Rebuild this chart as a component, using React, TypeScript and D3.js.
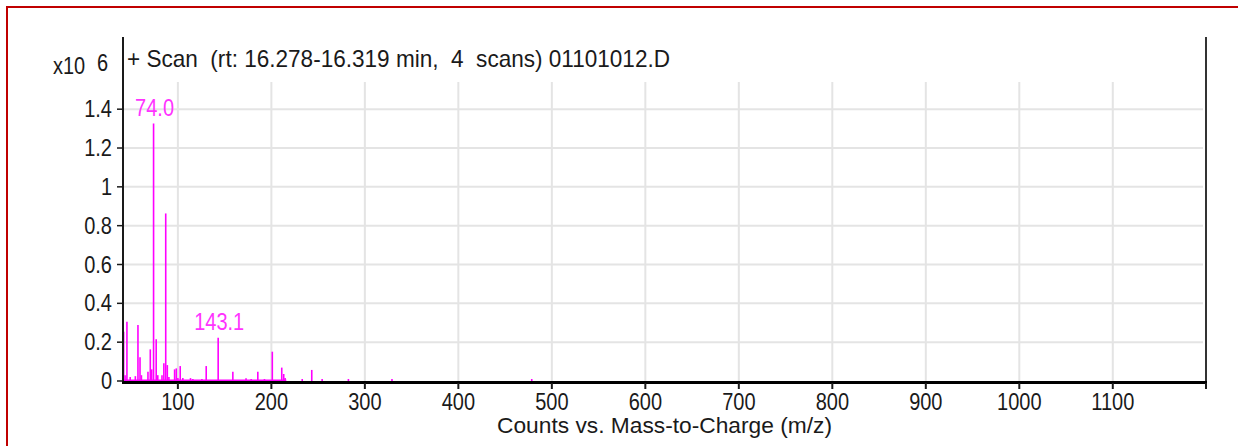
import React, { useRef, useEffect } from "react";
import * as d3 from "d3";

// peaks: m/z and counts (x10^6)
const peakMz = [
  42.0, 43.5, 45.5, 49, 54.5, 57.3, 59.5, 61, 68, 70.5, 72, 74.0, 76.8, 78.5, 83, 85, 87, 88.7,
  90.4, 96.5, 98.3, 100, 102.5, 105.3, 113.5, 116, 125.7, 130.3, 143.1, 158.8, 172.9, 178.4,
  185.5, 192.6, 201, 211.1, 213.2, 214.7, 233, 243.2, 254.3, 282.4, 329, 478.5,
];
const peakCounts = [
  0.254, 0.03, 0.305, 0.02, 0.025, 0.288, 0.122, 0.03, 0.048, 0.163, 0.06, 1.326, 0.215, 0.03,
  0.03, 0.091, 0.863, 0.082, 0.02, 0.06, 0.065, 0.015, 0.077, 0.015, 0.015, 0.01, 0.01, 0.077,
  0.223, 0.048, 0.014, 0.005, 0.048, 0.005, 0.151, 0.069, 0.036, 0.015, 0.01, 0.057, 0.01,
  0.008, 0.005, 0.005,
];
const labelledPeaks = ["74.0", "143.1"];

const yTicks = [0, 0.2, 0.4, 0.6, 0.8, 1, 1.2, 1.4];
const xTicks = [100, 200, 300, 400, 500, 600, 700, 800, 900, 1000, 1100];

const title = "+ Scan  (rt: 16.278-16.319 min,  4  scans) 01101012.D";
const xTitle = "Counts vs. Mass-to-Charge (m/z)";

const App = () => {
  const svgRef = useRef(null);

  var width = 1238;
  var height = 446;
  var left = 123, right = 1206, bottom = 381, top = 82;

  useEffect(() => {
    var svg = d3.select(svgRef.current);
    svg.selectAll("*").remove();

    var x = d3.scaleLinear().domain([41.3, 1199.7]).range([left, right]);
    var y = d3.scaleLinear().domain([0, 1.54]).range([bottom, top]);

    var font = "'Liberation Sans', Arial, sans-serif";

    // helper for the tall narrow text of the original
    function label(tx, ty, str, anchor, color, len?, sy = 1.2) {
      var t = svg
        .append("text")
        .attr("transform", "translate(" + tx + "," + ty + ") scale(1," + sy + ")")
        .attr("text-anchor", anchor)
        .attr("font-family", font)
        .attr("font-size", 20)
        .style("white-space", "pre")
        .attr("fill", color)
        .text(str);
      if (len) t.attr("textLength", len).attr("lengthAdjust", "spacingAndGlyphs");
      return t;
    }

    svg.append("rect").attr("width", width).attr("height", height).attr("fill", "#fff");

    // red frame (right and bottom sides are out of the picture)
    svg
      .append("rect")
      .attr("x", 7)
      .attr("y", 7)
      .attr("width", 1300)
      .attr("height", 500)
      .attr("fill", "none")
      .attr("stroke", "#c00000")
      .attr("stroke-width", 2);

    // grid
    svg
      .selectAll(".gx")
      .data(xTicks)
      .enter()
      .append("line")
      .attr("x1", (d) => x(d))
      .attr("x2", (d) => x(d))
      .attr("y1", top)
      .attr("y2", bottom)
      .attr("stroke", "#e4e4e4")
      .attr("stroke-width", 2);
    svg
      .selectAll(".gy")
      .data(yTicks.filter((d) => d > 0))
      .enter()
      .append("line")
      .attr("x1", left)
      .attr("x2", right - 3)
      .attr("y1", (d) => y(d))
      .attr("y2", (d) => y(d))
      .attr("stroke", "#e4e4e4")
      .attr("stroke-width", 2);

    // spectrum: baseline + sticks
    svg
      .append("line")
      .attr("x1", x(41.3))
      .attr("x2", x(216))
      .attr("y1", y(0) - 0.5)
      .attr("y2", y(0) - 0.5)
      .attr("stroke", "#ff00ff")
      .attr("stroke-width", 2);
    svg
      .selectAll(".peak")
      .data(peakMz)
      .enter()
      .append("line")
      .attr("x1", (d) => x(d))
      .attr("x2", (d) => x(d))
      .attr("y1", y(0))
      .attr("y2", (d, i) => Math.min(y(peakCounts[i]), y(0) - 2))
      .attr("stroke", "#ff00ff")
      .attr("stroke-width", 1.6);

    // peak labels
    labelledPeaks.forEach((s) => {
      var i = peakMz.indexOf(+s);
      label(x(peakMz[i]) + 1, y(peakCounts[i]) - 8, s, "middle", "#ff33ff");
    });

    // axes
    svg.append("line").attr("x1", left).attr("x2", left).attr("y1", 37).attr("y2", 384)
      .attr("stroke", "#1a1a1a").attr("stroke-width", 2);
    svg.append("line").attr("x1", right).attr("x2", right).attr("y1", 37).attr("y2", 384)
      .attr("stroke", "#333").attr("stroke-width", 2);
    svg.append("line").attr("x1", left - 1).attr("x2", right + 1).attr("y1", 382.5).attr("y2", 382.5)
      .attr("stroke", "#000").attr("stroke-width", 3);

    svg
      .selectAll(".ty")
      .data(yTicks)
      .enter()
      .append("line")
      .attr("x1", left - 6)
      .attr("x2", left)
      .attr("y1", (d) => y(d))
      .attr("y2", (d) => y(d))
      .attr("stroke", "#1a1a1a")
      .attr("stroke-width", 1.5);
    svg
      .selectAll(".tx")
      .data(xTicks.concat([1199.7]))
      .enter()
      .append("line")
      .attr("x1", (d) => x(d))
      .attr("x2", (d) => x(d))
      .attr("y1", 383)
      .attr("y2", 389)
      .attr("stroke", "#1a1a1a")
      .attr("stroke-width", 2);

    yTicks.forEach((d) => label(112, y(d) + 8, String(d), "end", "#1a1a1a"));
    xTicks.forEach((d) => label(x(d), 410, String(d), "middle", "#1a1a1a", undefined, 1.15));

    // titles
    label(53, 74, "x10", "start", "#1a1a1a");
    label(97, 71, "6", "start", "#1a1a1a");
    label(127, 67, title, "start", "#1a1a1a", 543);
    label(497, 433, xTitle, "start", "#1a1a1a", 335, 1.1);
  }, []);

  return (
    <svg
      ref={svgRef}
      width={width}
      height={height}
      style={{ position: "absolute", left: 0, top: 0 }}
    />
  );
};

export default App;
